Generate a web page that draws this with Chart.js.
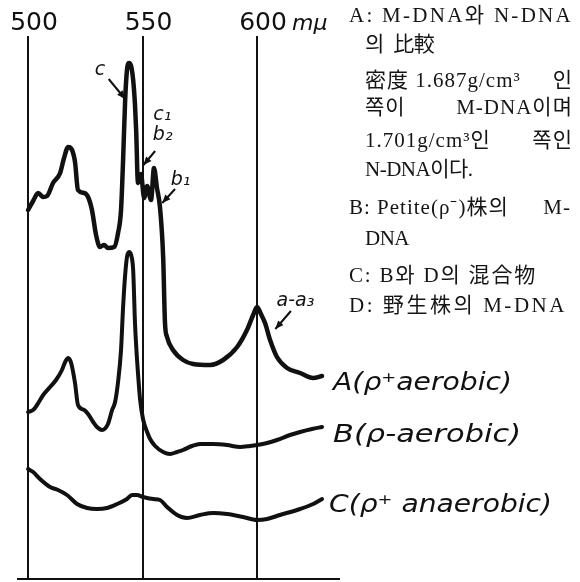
<!DOCTYPE html>
<html><head><meta charset="utf-8">
<script src="https://cdn.jsdelivr.net/npm/chart.js@4.4.1/dist/chart.umd.min.js"></script>
<style>
html,body{margin:0;padding:0;background:#fff;}
#wrap{position:relative;width:580px;height:582px;overflow:hidden;}
#c{position:absolute;left:0;top:0;}
.note{position:absolute;font-family:"Liberation Serif","Noto Sans CJK KR",serif;font-size:21px;color:#151515;white-space:pre;line-height:21px;height:21px;}
</style></head>
<body><div id="wrap"><canvas id="c" width="580" height="582"></canvas><div id="notes"></div></div>
<script>
// wavelength (mμ) and relative absorbance
const nmA = [500.0,502.2,504.4,506.6,508.3,510.9,514.0,515.7,517.5,519.2,520.5,521.8,524.5,526.2,527.9,529.7,531.4,533.2,534.9,537.6,539.3,540.6,541.5,542.4,543.2,544.1,545.0,545.9,546.7,547.2,548.0,549.3,550.7,552.0,553.7,555.0,556.3,557.6,559.0,559.8,560.7,563.3,567.7,572.1,579.5,585.2,591.3,595.6,598.3,600.0,601.7,603.5,605.7,608.7,613.1,618.8,624.5,628.4];
const absA = [36.9,37.8,38.6,38.2,38.3,39.6,40.6,42.1,43.2,42.9,41.7,38.9,38.6,38.2,36.9,34.4,33.2,33.4,33.1,33.2,34.6,36.9,41.9,47.9,50.9,51.6,51.3,49.9,47.4,44.9,39.6,40.5,38.1,39.3,37.9,41.1,39.1,37.2,32.2,25.6,24.2,22.9,21.9,21.5,21.4,21.9,23.2,24.9,26.4,27.2,26.5,25.6,23.9,22.2,21.1,20.6,20.1,20.3];

const nmB = [500.0,502.2,503.9,506.6,509.6,512.2,514.8,516.2,517.5,518.8,520.5,521.8,524.5,526.2,528.4,530.1,532.3,534.9,536.7,538.0,539.3,540.6,541.5,542.4,543.2,544.1,545.0,545.9,546.7,547.6,548.0,548.9,550.2,552.0,553.3,555.5,559.0,562.0,565.1,567.7,571.6,575.1,580.8,586.9,592.6,596.9,600.0,604.4,608.7,614.4,618.8,624.0,628.4];
const absB = [16.7,16.9,17.4,18.4,19.2,19.9,20.9,21.7,22.1,21.6,19.6,17.4,16.9,16.5,15.7,15.2,14.9,15.5,16.9,17.7,19.7,22.9,27.2,30.4,32.2,32.7,32.4,30.9,25.6,21.9,20.6,18.0,16.0,14.7,14.0,13.3,12.7,12.5,12.7,12.9,13.3,13.5,13.5,13.4,13.2,13.3,13.4,13.6,13.9,14.4,14.7,15.0,15.2];

const nmC = [500.0,502.2,505.2,509.6,513.1,517.0,521.4,525.8,530.1,534.5,538.9,543.2,545.4,547.6,550.2,554.6,557.6,560.7,565.1,569.4,575.1,580.8,586.9,593.9,600.0,604.4,610.0,618.8,624.5,628.4];
const absC = [11.0,10.7,10.0,9.2,8.9,8.4,7.5,7.1,7.0,7.1,7.5,8.0,8.4,8.4,8.2,8.0,7.9,7.2,6.4,6.1,6.4,6.6,6.5,6.2,5.9,6.0,6.4,7.0,7.5,8.0];

const seriesLabels = ['A(ρ\u207Aaerobic)', 'B(ρ-aerobic)', 'C(ρ\u207A anaerobic)'];
const tickValues = [500, 550, 600];
const unitLabel = 'mμ';

// caption; a tab separates a left part from a right-aligned part
const captionLines = [
  'A: M-DNA와 N-DNA', '의  比較', '密度 1.687g/cm³\t인', '쪽이\tM-DNA이며', '1.701g/cm³인\t쪽인',
  'N-DNA이다.', 'B: Petite(ρ\u207B)株의\tM-', 'DNA', 'C: B와 D의 混合物', 'D: 野生株의 M-DNA'
];

// ---- layout / style (not data) ----
const captionLayout = [
  {x:349,y:16,r:573},{x:365,y:45,r:414},{x:365,y:81,r:573},{x:365,y:108,r:573},{x:365,y:141,r:573},
  {x:365,y:170,r:458},{x:349,y:208,r:571},{x:365,y:239,r:405},{x:349,y:276,r:537},{x:349,y:306,r:567}
];
const notes = document.getElementById('notes');
function addDiv(text, y){
  const d = document.createElement('div');
  d.className = 'note';
  d.textContent = text;
  d.style.top = (y - 11) + 'px';
  notes.appendChild(d);
  return d;
}
captionLines.forEach((t,i)=>{
  const L = captionLayout[i];
  const parts = t.split('\t');
  if (parts.length === 1) {
    const d = addDiv(t, L.y);
    d.style.left = L.x + 'px';
    const w = d.getBoundingClientRect().width;
    const n = [...t].length;
    const ls = Math.max(-0.5, Math.min(3, (L.r - L.x - w) / n));
    d.style.letterSpacing = ls + 'px';
  } else {
    const a = addDiv(parts[0], L.y);
    a.style.left = L.x + 'px'; a.style.letterSpacing = '1px';
    const b = addDiv(parts[1], L.y);
    b.style.right = (580 - L.r) + 'px'; b.style.letterSpacing = '1px';
  }
});

const labelStyle = [
  {dx:11, dy:14, w:179},
  {dx:11, dy:15, w:188},
  {dx:7,  dy:13, w:223}
];
const marks = [
  {text:'c',  at:[531.4,50.9], from:[535.2,50.0], to:[542.4,48.0]},
  {text:'c\u2081', at:[558.6,46.4]},
  {text:'b\u2082', at:[558.8,44.4], from:[555.5,42.8], to:[550.4,41.4]},
  {text:'b\u2081', at:[566.6,39.9], from:[564.2,39.0], to:[558.6,37.6]},
  {text:'a-a\u2083', at:[616.8,27.8], from:[614.8,26.8], to:[608.0,25.0]}
];

const pts = (xs, ys) => xs.map((x,i)=>({x, y: ys[i]}));
const lineStyle = w => ({borderColor:'#111', borderWidth:w, pointRadius:0, fill:false,
  cubicInterpolationMode:'monotone', borderCapStyle:'round', borderJoinStyle:'round'});

const drawPlugin = {
  id:'extraText',
  afterDraw(chart){
    const ctx = chart.ctx, xs = chart.scales.x, ys = chart.scales.y;
    ctx.save();
    ctx.fillStyle = '#111'; ctx.strokeStyle = '#111';
    ctx.font = 'oblique 22px "DejaVu Sans"';
    ctx.textAlign = 'left'; ctx.textBaseline = 'alphabetic';
    ctx.fillText(unitLabel, xs.getPixelForValue(600) + 35, 30);
    ctx.font = 'oblique 25px "DejaVu Sans"';
    seriesLabels.forEach((t,i)=>{
      const meta = chart.getDatasetMeta(i);
      const p = meta.data[meta.data.length-1];
      const s = labelStyle[i];
      const w = ctx.measureText(t).width;
      ctx.save();
      ctx.translate(p.x + s.dx, p.y + s.dy);
      ctx.scale(s.w / w, 1);
      ctx.fillText(t, 0, 0);
      ctx.restore();
    });
    ctx.font = 'oblique 19px "DejaVu Sans"';
    ctx.textAlign = 'center'; ctx.textBaseline = 'middle';
    ctx.lineWidth = 2;
    marks.forEach(m=>{
      ctx.fillText(m.text, xs.getPixelForValue(m.at[0]), ys.getPixelForValue(m.at[1]));
      if (m.from){
        const x1 = xs.getPixelForValue(m.from[0]), y1 = ys.getPixelForValue(m.from[1]);
        const x2 = xs.getPixelForValue(m.to[0]), y2 = ys.getPixelForValue(m.to[1]);
        ctx.beginPath(); ctx.moveTo(x1,y1); ctx.lineTo(x2,y2); ctx.stroke();
        const a = Math.atan2(y2-y1, x2-x1), L = 9;
        ctx.beginPath();
        ctx.moveTo(x2,y2);
        ctx.lineTo(x2 - L*Math.cos(a-0.4), y2 - L*Math.sin(a-0.4));
        ctx.lineTo(x2 - L*Math.cos(a+0.4), y2 - L*Math.sin(a+0.4));
        ctx.closePath(); ctx.fill();
      }
    });
    ctx.restore();
  }
};

const setTicks = axis => { axis.ticks = tickValues.map(v=>({value:v})); };

new Chart(document.getElementById('c'), {
  type:'line',
  data:{ datasets:[
    Object.assign({label:seriesLabels[0], data:pts(nmA,absA)}, lineStyle(4.5)),
    Object.assign({label:seriesLabels[1], data:pts(nmB,absB)}, lineStyle(4)),
    Object.assign({label:seriesLabels[2], data:pts(nmC,absC)}, lineStyle(4))
  ]},
  options:{
    responsive:false, animation:false, devicePixelRatio:1,
    layout:{padding:{left:18, right:241, top:11, bottom:3}},
    plugins:{legend:{display:false}, tooltip:{enabled:false}},
    scales:{
      x:{type:'linear', position:'bottom', min:495.6, max:635.8,
         afterBuildTicks:setTicks,
         ticks:{display:false},
         grid:{display:true, color:'#111', lineWidth:2, drawTicks:false},
         border:{display:true, color:'#111', width:2}},
      xTop:{type:'linear', position:'top', min:495.6, max:635.8,
         afterBuildTicks:setTicks,
         ticks:{display:true, color:'#111', padding:0, labelOffset:6, autoSkip:false, maxRotation:0,
                font:{family:'DejaVu Sans', size:25, lineHeight:1}},
         grid:{display:false, drawTicks:false},
         border:{display:false}},
      y:{type:'linear', display:false, min:0, max:54.3}
    }
  },
  plugins:[drawPlugin]
});
</script>
</body></html>
